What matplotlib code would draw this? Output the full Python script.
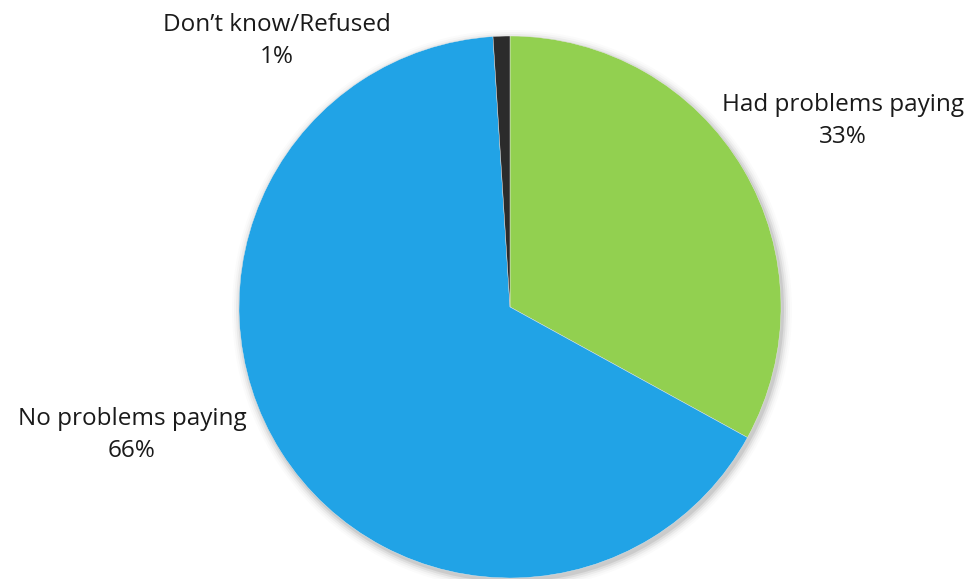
import matplotlib
matplotlib.use("Agg")
import matplotlib.pyplot as plt
from matplotlib.patches import Circle

categories = ["Had problems paying", "No problems paying", "Don\u2019t know/Refused"]
values = [33, 66, 1]
colors = ["#92D050", "#21A3E6", "#2B2B2B"]

plt.rcParams['font.family'] = ['Open Sans', 'DejaVu Sans']

fig = plt.figure(figsize=(9.73, 5.79), dpi=100)
ax = fig.add_axes([0, 0, 1, 1])
ax.set_xlim(0, 973)
ax.set_ylim(0, 579)
ax.set_aspect('equal')
ax.axis('off')

cx, cy, r = 510, 579 - 307, 271

# soft shadow
for k, a in [(9, 0.015), (7, 0.025), (5, 0.04), (3, 0.06), (1, 0.08)]:
    ax.add_patch(Circle((cx + 2, cy - 3), r + k, color='black', alpha=a, lw=0, zorder=0))

ax.pie(values, colors=colors, startangle=90, counterclock=False,
       center=(cx, cy), radius=r, frame=True,
       wedgeprops=dict(edgecolor='#e8e8e8', linewidth=0.3))
ax.set_xlim(0, 973)
ax.set_ylim(0, 579)
ax.axis('off')

label_pos = [(843, 121), (132, 435), (277, 41)]
for cat, val, (x, y) in zip(categories, values, label_pos):
    ax.text(x, 579 - y, f"{cat}\n{val}%", ha='center', va='center',
            fontsize=17.5, color='#1a1a1a', linespacing=1.45)

fig.savefig("out.png", dpi=100)
